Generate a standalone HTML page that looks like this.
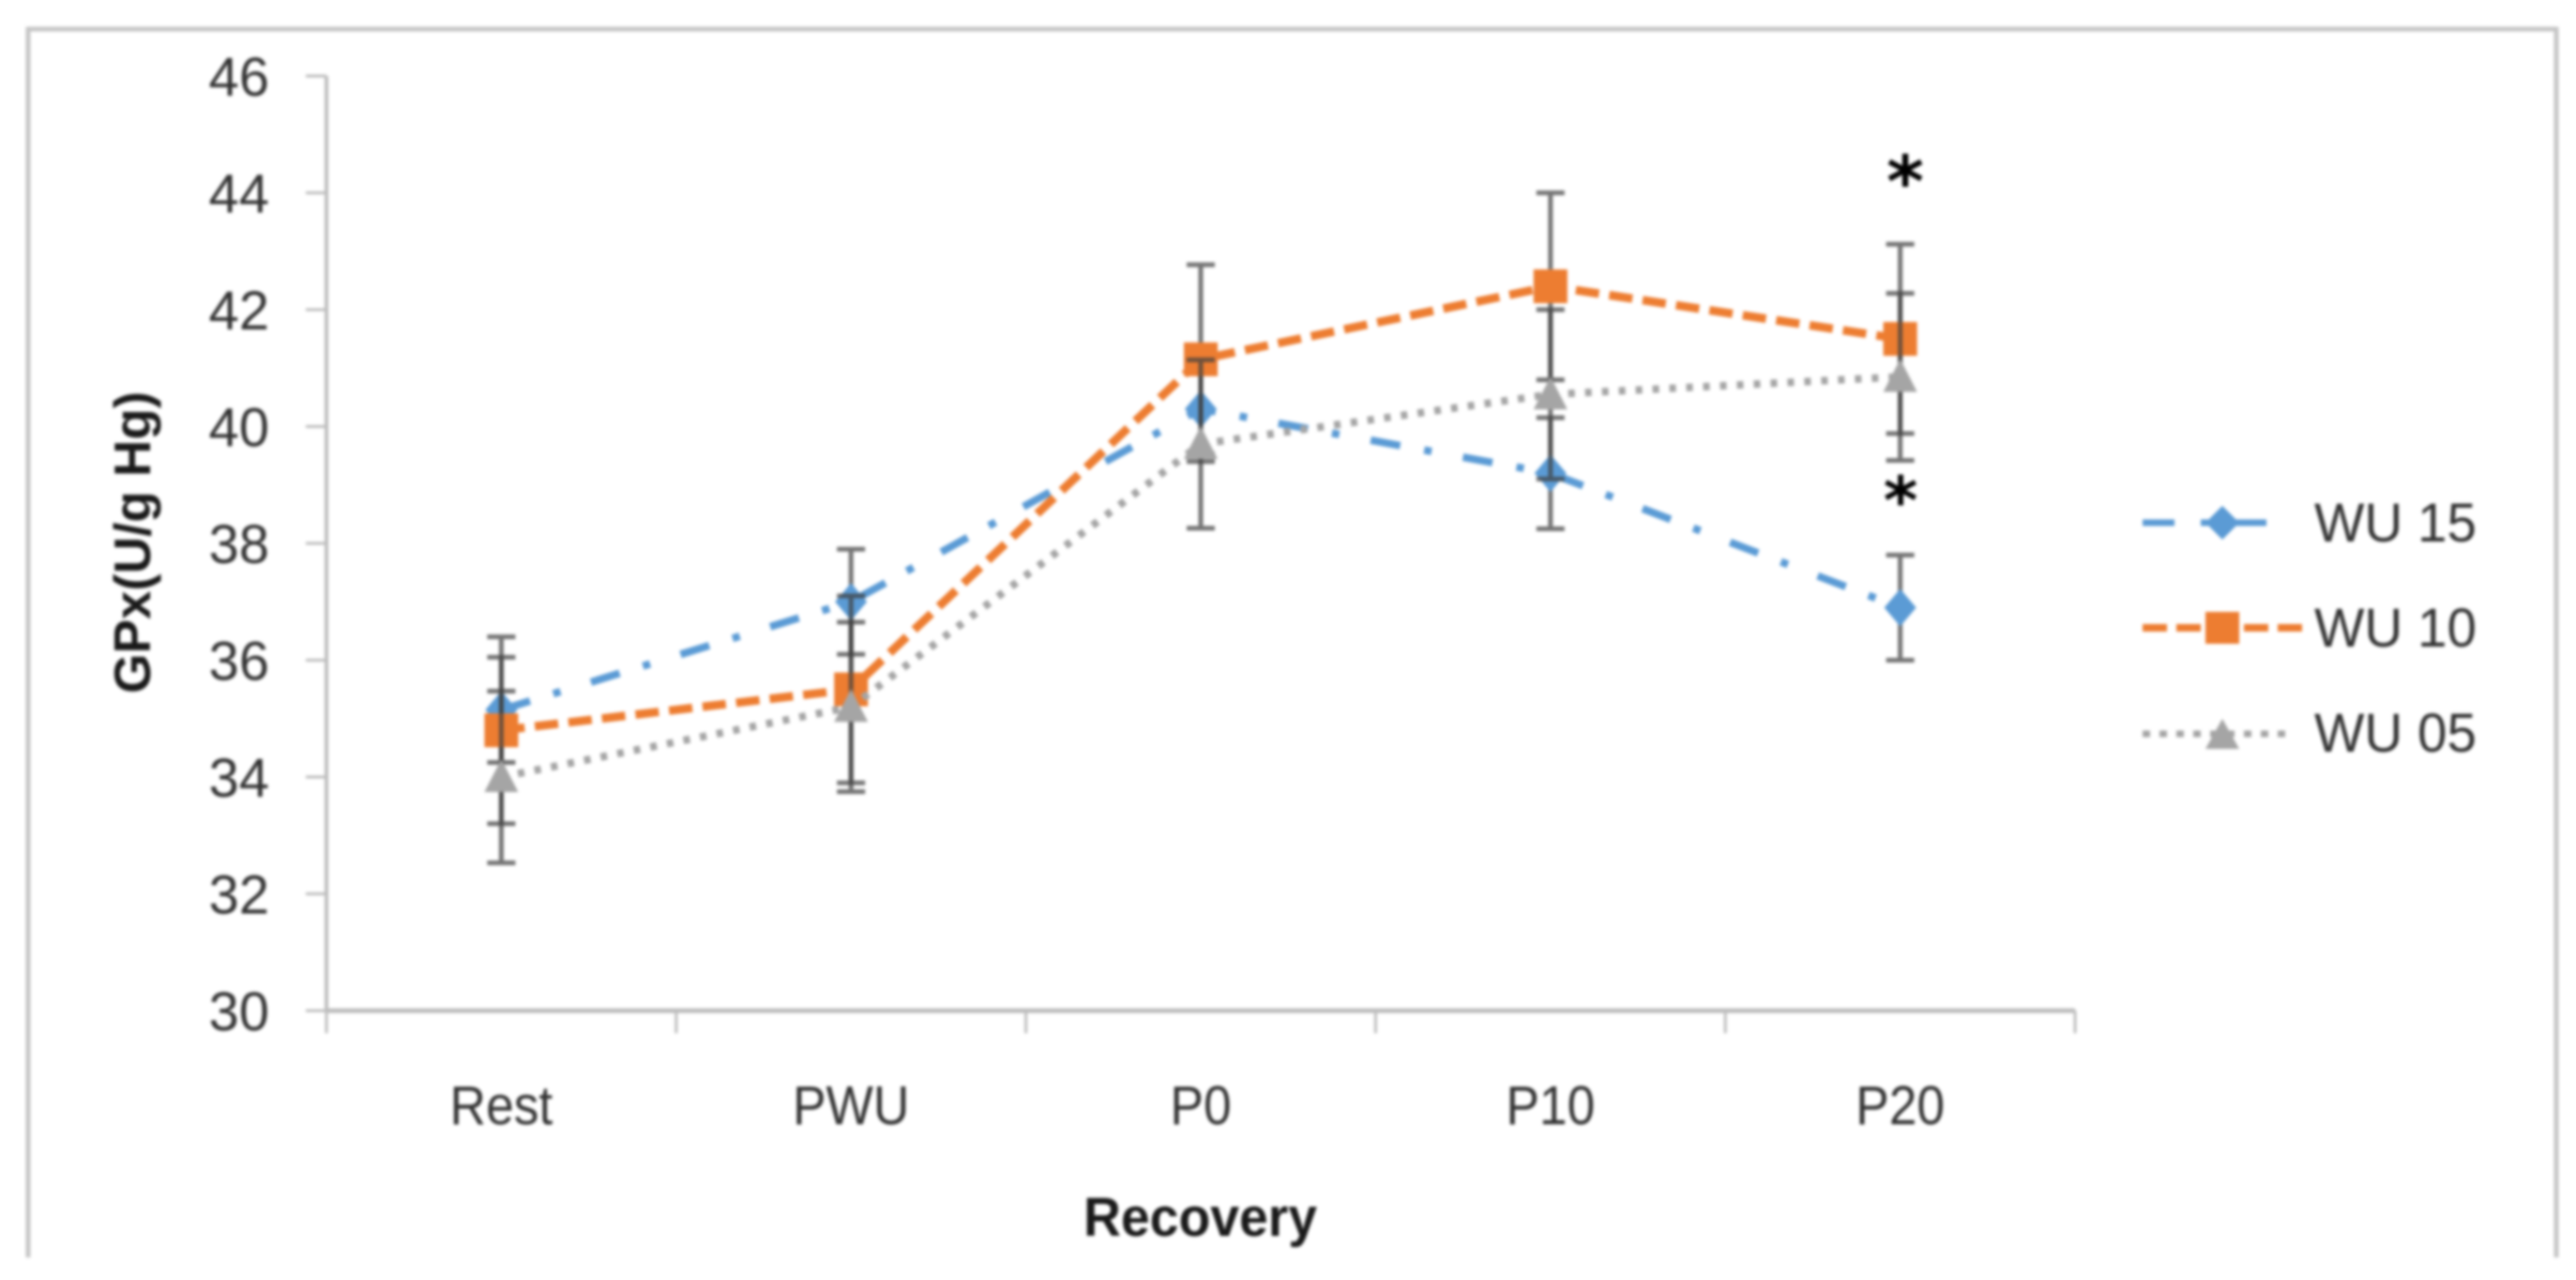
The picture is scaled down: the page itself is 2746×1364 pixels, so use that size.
<!DOCTYPE html>
<html lang="en">
<head>
<meta charset="utf-8">
<title>GPx recovery chart</title>
<style>
html,body{margin:0;padding:0;background:#fff;}
body{width:2746px;height:1364px;overflow:hidden;}
#chart{display:block;filter:blur(1.5px);}
text{font-family:"Liberation Sans",sans-serif;}
</style>
</head>
<body>
<svg id="chart" xmlns="http://www.w3.org/2000/svg" width="2746" height="1364" viewBox="0 0 2746 1364">
  <rect x="0" y="0" width="2746" height="1364" fill="#fff"/>
  <path d="M30 1340V31H2725V1340" fill="none" stroke="#c6c6c6" stroke-width="5"/>
  <g id="axes"></g>
  <g id="series"></g>
  <text transform="translate(160,578) rotate(-90)" text-anchor="middle" font-size="55" font-weight="700" fill="#1a1a1a" textLength="322" lengthAdjust="spacingAndGlyphs">GPx(U/g Hg)</text>
  <text x="1155" y="1317" font-size="58" font-weight="700" fill="#1a1a1a" textLength="249" lengthAdjust="spacingAndGlyphs">Recovery</text>
  <text x="2031" y="220" text-anchor="middle" font-size="76" font-weight="700" fill="#000" style="font-family:'DejaVu Sans',sans-serif">*</text>
  <text x="2026" y="558" text-anchor="middle" font-size="70" font-weight="700" fill="#000" style="font-family:'DejaVu Sans',sans-serif">*</text>
  <g>
    <g>
      <line x1="2284" y1="557" x2="2418" y2="557" stroke="#5b9bd5" stroke-width="7" stroke-dasharray="34 28 8 28"/>
      <path d="M2369 539L2387 557L2369 575L2351 557Z" fill="#5b9bd5"/>
      <text x="2467" y="577" font-size="58" fill="#333" textLength="173" lengthAdjust="spacingAndGlyphs">WU 15</text>
    </g>
    <g>
      <line x1="2284" y1="669" x2="2455" y2="669" stroke="#ed7d31" stroke-width="8" stroke-dasharray="26 10"/>
      <rect x="2351" y="652" width="36" height="34" fill="#ed7d31"/>
      <text x="2467" y="689" font-size="58" fill="#333" textLength="173" lengthAdjust="spacingAndGlyphs">WU 10</text>
    </g>
    <g>
      <line x1="2284" y1="782" x2="2440" y2="782" stroke="#a5a5a5" stroke-width="7" stroke-dasharray="8 10"/>
      <path d="M2369 766L2387 798H2351Z" fill="#a5a5a5"/>
      <text x="2467" y="801" font-size="58" fill="#333" textLength="173" lengthAdjust="spacingAndGlyphs">WU 05</text>
    </g>
  </g>
</svg>
<script>
const categories = ["Rest", "PWU", "P0", "P10", "P20"];
const yTickLabels = [30, 32, 34, 36, 38, 40, 42, 44, 46];
const wu15Values = [35.15, 37.0, 40.3, 39.2, 36.9];
const wu10Values = [34.8, 35.5, 41.15, 42.4, 41.5];
const wu05Values = [34.0, 35.2, 39.7, 40.55, 40.85];
const wu15Errors = [0.9, 0.9, 0.9, 0.95, 0.9];
const wu10Errors = [1.6, 1.6, 1.62, 1.6, 1.62];
const wu05Errors = [1.47, 1.45, 1.44, 1.45, 1.43];

const NS = "http://www.w3.org/2000/svg";
const axisLeft = 348, axisRight = 2212, axisTop = 81, axisBottom = 1077;
const yMin = 30, yMax = 46;

function xBand(i) { return axisLeft + (axisRight - axisLeft) * i / categories.length; }
function xScale(i) { return xBand(i + 0.5); }
function yScale(v) { return axisBottom - (v - yMin) / (yMax - yMin) * (axisBottom - axisTop); }

function mk(tag, attrs, parent) {
  const el = document.createElementNS(NS, tag);
  for (const k in attrs) el.setAttribute(k, attrs[k]);
  parent.appendChild(el);
  return el;
}

const axes = document.getElementById("axes");
const seriesRoot = document.getElementById("series");

const yAxisLine = mk("line", {x1: axisLeft, y1: axisTop, x2: axisLeft, y2: axisBottom + 2, stroke: "#bdbdbd", "stroke-width": 4}, axes);


const xAxisLine = mk("line", {x1: axisLeft, y1: axisBottom, x2: axisRight, y2: axisBottom, stroke: "#bdbdbd", "stroke-width": 5}, axes);



yTickLabels.forEach(function (t) {
  const tick = mk("line", {x1: axisLeft - 22, y1: yScale(t), x2: axisLeft, y2: yScale(t), stroke: "#bdbdbd", "stroke-width": 3}, axes);
  
  
  const label = mk("text", {x: 287, y: yScale(t) + 21, "text-anchor": "end", "font-size": 58, fill: "#333"}, axes);
  
  
  label.textContent = t;
});

for (let i = 0; i <= categories.length; i++) {
  const tick = mk("line", {x1: xBand(i), y1: axisBottom, x2: xBand(i), y2: axisBottom + 24, stroke: "#bdbdbd", "stroke-width": 3}, axes);
  
  
}

categories.forEach(function (c, i) {
  const label = mk("text", {transform: "translate(" + xScale(i) + ",1198) scale(0.92,1)", "text-anchor": "middle", "font-size": 58, fill: "#333"}, axes);
  
  
  label.textContent = c;
});

function drawErrorBars(group, values, errors) {
  values.forEach(function (v, i) {
    const x = xScale(i), hi = yScale(v + errors[i]), lo = yScale(v - errors[i]);
    const bar = mk("path", {
      d: "M" + x + " " + hi + "V" + lo + "M" + (x - 15) + " " + hi + "H" + (x + 15) + "M" + (x - 15) + " " + lo + "H" + (x + 15),
      fill: "none", stroke: "#404040", "stroke-width": 5, "stroke-opacity": 0.72
    }, group);
    
    
  });
}

function drawLine(group, values, color, width, dash) {
  const pts = values.map(function (v, i) { return xScale(i) + "," + yScale(v); }).join(" ");
  const line = mk("polyline", {points: pts, fill: "none", stroke: color, "stroke-width": width, "stroke-dasharray": dash}, group);
  
  
}

function drawMarker(group, kind, x, y, color) {
  let el;
  if (kind === "diamond") {
    el = mk("path", {d: "M" + x + " " + (y - 20) + "L" + (x + 17) + " " + y + "L" + x + " " + (y + 20) + "L" + (x - 17) + " " + y + "Z", fill: color}, group);
  } else if (kind === "square") {
    el = mk("rect", {x: x - 18, y: y - 18, width: 36, height: 36, fill: color}, group);
  } else {
    el = mk("path", {d: "M" + x + " " + (y - 19) + "L" + (x + 18) + " " + (y + 16) + "H" + (x - 18) + "Z", fill: color}, group);
  }
  
  
}

function drawSeries(name, values, errors, color, width, dash, kind) {
  const group = mk("g", {}, seriesRoot);
  
  
  drawErrorBars(group, values, errors);
  drawLine(group, values, color, width, dash);
  values.forEach(function (v, i) { drawMarker(group, kind, xScale(i), yScale(v), color); });
}

drawSeries("series-wu-15", wu15Values, wu15Errors, "#5b9bd5", 8, "32 26 8 34", "diamond");
drawSeries("series-wu-10", wu10Values, wu10Errors, "#ed7d31", 9, "25 11", "square");
drawSeries("series-wu-05", wu05Values, wu05Errors, "#a5a5a5", 8, "7 11", "triangle");
</script>
</body>
</html>
